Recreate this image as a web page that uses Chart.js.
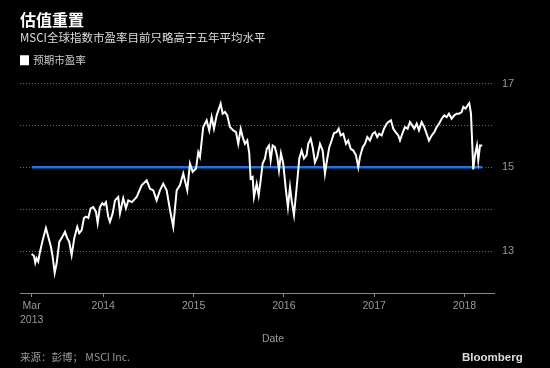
<!DOCTYPE html>
<html>
<head>
<meta charset="utf-8">
<script src="https://cdn.jsdelivr.net/npm/chart.js@4.4.1/dist/chart.umd.min.js"></script>
<style>
  html, body { margin: 0; padding: 0; background: #000; }
</style>
</head>
<body>
<canvas id="pe" width="550" height="368"></canvas>
<script>
// weekly-ish samples, decimal years
const dates = [
  2013.207, 2013.233, 2013.247, 2013.262, 2013.280, 2013.299, 2013.329, 2013.365, 2013.391, 2013.421,
  2013.440, 2013.462, 2013.484, 2013.513, 2013.539, 2013.576, 2013.601, 2013.623, 2013.650, 2013.679,
  2013.712, 2013.734, 2013.761, 2013.786, 2013.808, 2013.834, 2013.860, 2013.889, 2013.919, 2013.938,
  2013.963, 2013.989, 2014.008, 2014.030, 2014.055, 2014.074,
  2014.104, 2014.130, 2014.166, 2014.185, 2014.221, 2014.251, 2014.277, 2014.318, 2014.370, 2014.425,
  2014.481, 2014.517, 2014.554, 2014.591, 2014.628, 2014.664, 2014.702, 2014.739, 2014.775, 2014.813,
  2014.849, 2014.886, 2014.930, 2014.960, 2014.990, 2015.027, 2015.052, 2015.071,
  2015.107, 2015.145, 2015.174, 2015.200, 2015.226, 2015.256, 2015.281, 2015.300, 2015.322, 2015.348,
  2015.373, 2015.403, 2015.440, 2015.470, 2015.495, 2015.522, 2015.544, 2015.569, 2015.595, 2015.617,
  2015.632, 2015.654, 2015.669, 2015.699, 2015.721, 2015.743, 2015.765, 2015.791, 2015.810, 2015.835,
  2015.854, 2015.876, 2015.901, 2015.927, 2015.946, 2015.968, 2015.993, 2016.023, 2016.045, 2016.068,
  2016.086, 2016.112, 2016.142, 2016.171,
  2016.197, 2016.223, 2016.252, 2016.270, 2016.297, 2016.319, 2016.344, 2016.370, 2016.400, 2016.430,
  2016.455, 2016.474, 2016.503, 2016.529, 2016.555, 2016.585, 2016.607, 2016.629, 2016.658, 2016.688,
  2016.713, 2016.740, 2016.769, 2016.798, 2016.824, 2016.843, 2016.873, 2016.898, 2016.924, 2016.953,
  2016.983, 2017.009, 2017.034, 2017.056, 2017.083, 2017.109,
  2017.138, 2017.156, 2017.186, 2017.212, 2017.238, 2017.267, 2017.286, 2017.311, 2017.341, 2017.371,
  2017.396, 2017.422, 2017.444, 2017.471, 2017.496, 2017.526, 2017.555, 2017.581, 2017.607, 2017.637,
  2017.666, 2017.692, 2017.718, 2017.748, 2017.776, 2017.803, 2017.828, 2017.858, 2017.887, 2017.914,
  2017.939, 2017.969, 2017.987, 2018.013, 2018.035, 2018.053, 2018.072, 2018.086, 2018.097, 2018.116,
  2018.138, 2018.153, 2018.172, 2018.197
];

const pe = [
  12.93, 12.88, 12.72, 12.83, 12.75, 12.98, 13.26, 13.55, 13.34, 13.10,
  12.86, 12.48, 12.71, 13.22, 13.31, 13.46, 13.31, 13.22, 12.90, 13.31,
  13.58, 13.43, 13.50, 13.79, 13.82, 13.79, 14.02, 14.05, 13.94, 13.67,
  14.05, 14.14, 14.10, 14.17, 13.82, 13.70,
  13.90, 14.21, 14.29, 13.90, 14.26, 14.02, 14.21, 14.17, 14.29, 14.57,
  14.69, 14.49, 14.45, 14.21, 14.45, 14.61, 14.45, 13.98, 13.58, 14.45,
  14.57, 14.85, 14.45, 15.09, 14.89, 14.97, 15.36, 15.25,
  15.96, 16.12, 15.88, 16.20, 15.92, 16.24, 16.40, 16.52, 16.28, 16.32,
  16.24, 15.96, 15.88, 15.84, 15.56, 15.92, 15.72, 15.56, 15.64, 15.33,
  14.73, 14.77, 14.29, 14.61, 14.33, 14.69, 15.09, 15.21, 15.44, 15.52,
  15.17, 15.52, 15.48, 15.25, 14.93, 15.33, 15.09, 14.45, 14.05, 14.53,
  14.21, 13.86, 14.53, 15.21,
  15.40, 15.21, 15.29, 15.56, 15.68, 15.48, 15.12, 15.25, 15.56, 15.40,
  14.85, 15.12, 15.48, 15.64, 15.82, 15.84, 15.92, 15.76, 15.80, 15.56,
  15.64, 15.44, 15.40, 15.29, 15.00, 15.25, 15.48, 15.56, 15.72, 15.64,
  15.80, 15.84, 15.72, 15.80, 15.76, 15.92,
  16.04, 16.08, 16.12, 15.92, 15.84, 15.76, 15.64, 15.80, 15.96, 15.92,
  16.08, 16.00, 15.92, 16.04, 15.88, 16.08, 15.96, 15.80, 15.64, 15.76,
  15.84, 15.96, 16.04, 16.16, 16.24, 16.20, 16.28, 16.16, 16.24, 16.28,
  16.28, 16.32, 16.44, 16.40, 16.48, 16.53, 16.28, 15.56, 14.95, 15.29,
  15.52, 15.17, 15.52, 15.52
];

const avgPE = 15;

const xTickVals = [2013.207, 2014, 2015, 2016, 2017, 2018];
const xTickLabels = [["Mar", "2013"], "2014", "2015", "2016", "2017", "2018"];
const yTickLabels = [13, 15, 17];

const cjk = '"Noto Sans CJK SC", sans-serif';
const latin = '"Liberation Sans", Arial, sans-serif';

// push the plot a bit further below the legend
const legendMargin = {
  id: "legendMargin",
  beforeInit(chart) {
    if (!chart.legend) return;
    const fitValue = chart.legend.fit;
    chart.legend.fit = function fit() {
      fitValue.bind(chart.legend)();
      this.height += 8;
    };
  },
};

const extraText = {
  id: "extraText",
  afterDraw(chart) {
    const ctx = chart.ctx;
    ctx.save();
    ctx.textBaseline = "middle";
    ctx.fillStyle = "#999";
    ctx.font = "10.5px " + latin;
    ctx.textAlign = "center";
    ctx.fillText("Date", 273, 339);
    ctx.textAlign = "left";
    ctx.font = "10.5px " + cjk;
    ctx.fillText("来源：彭博； MSCI Inc.", 20, 357);
    ctx.fillStyle = "#ddd";
    ctx.font = "bold 11.5px " + latin;
    ctx.fillText("Bloomberg", 462, 358);
    ctx.restore();
  },
};

const data = {
  datasets: [
    {
      label: "预期市盈率",
      data: dates.map((d, i) => ({ x: d, y: pe[i] })),
      borderColor: "#ffffff",
      backgroundColor: "#ffffff",
      borderWidth: 2,
      pointRadius: 0,
      tension: 0,
    },
    {
      label: "平均",
      data: [
        { x: dates[0], y: avgPE },
        { x: dates[dates.length - 1], y: avgPE },
      ],
      borderColor: "#1f72e6",
      backgroundColor: "#1f72e6",
      borderWidth: 2.5,
      pointRadius: 0,
    },
  ],
};

const config = {
  type: "line",
  data: data,
  options: {
    responsive: false,
    animation: false,
    layout: { padding: { left: 20, right: 0, top: 10, bottom: 0 } },
    plugins: {
      title: {
        display: true,
        text: "估值重置",
        align: "start",
        color: "#ffffff",
        font: { family: cjk, size: 16, weight: "bold", lineHeight: 1.2 },
        padding: { top: 0, bottom: 2 },
      },
      subtitle: {
        display: true,
        text: "MSCI全球指数市盈率目前只略高于五年平均水平",
        align: "start",
        color: "#dddddd",
        font: { family: cjk, size: 11.5, lineHeight: 1.2 },
        padding: { top: 0, bottom: 10 },
      },
      legend: {
        align: "start",
        labels: {
          filter: (item) => item.datasetIndex === 0,
          color: "#cccccc",
          boxWidth: 8,
          boxHeight: 8,
          padding: 0,
          font: { family: cjk, size: 10.5 },
        },
      },
      tooltip: { enabled: false },
    },
    scales: {
      x: {
        type: "linear",
        min: 2013.078,
        max: 2018.327,
        afterBuildTicks: (scale) => {
          scale.ticks = xTickVals.map((v) => ({ value: v }));
        },
        afterFit: (scale) => {
          scale.height = 75;
        },
        ticks: {
          autoSkip: false,
          maxRotation: 0,
          padding: 3,
          color: "#999999",
          font: { family: latin, size: 10.5, lineHeight: 1.25 },
          callback: (value, index) => xTickLabels[index],
        },
        grid: {
          drawOnChartArea: false,
          tickLength: 4,
          color: "#888888",
        },
        border: { color: "#888888", width: 1 },
      },
      y: {
        position: "right",
        min: 12,
        max: 17,
        afterFit: (scale) => {
          scale.width = 56;
        },
        ticks: {
          stepSize: 1,
          padding: 8,
          color: "#999999",
          font: { family: latin, size: 11 },
          callback: (value) => (yTickLabels.includes(value) ? value : ""),
        },
        grid: {
          drawTicks: false,
          color: "#666666",
        },
        border: { display: false, dash: [1, 2] },
      },
    },
  },
  plugins: [legendMargin, extraText],
};

new Chart(document.getElementById("pe"), config);
</script>
</body>
</html>
